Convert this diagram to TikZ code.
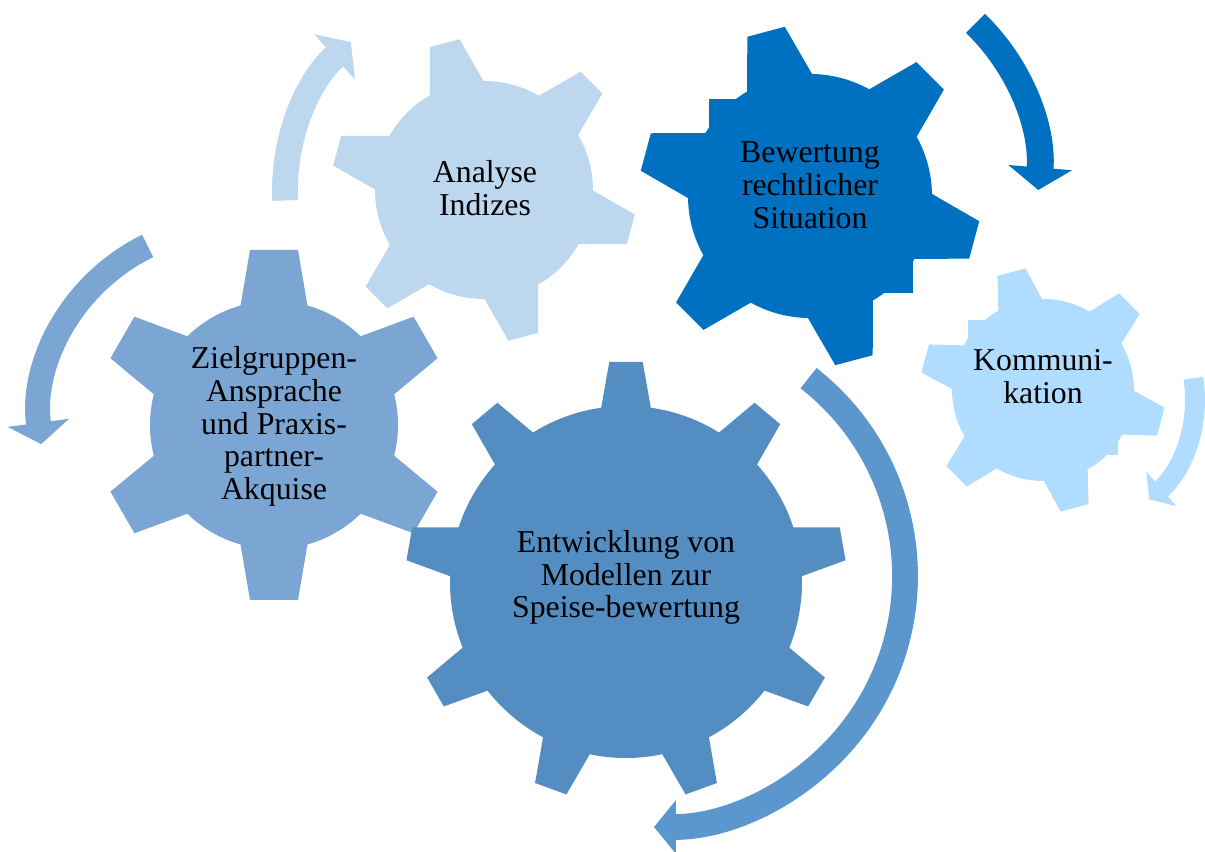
\documentclass[tikz,border=0pt]{standalone}
\usepackage{fontspec}
\setmainfont{Liberation Serif}
\usetikzlibrary{arrows.meta}

\definecolor{modellblue}{HTML}{548DC1}
\definecolor{modellarrow}{HTML}{5B97CC}
\definecolor{zielblue}{HTML}{7BA5D3}
\definecolor{analyseblue}{HTML}{BDD7EE}
\definecolor{rechtblue}{HTML}{0070C0}
\definecolor{kommblue}{HTML}{AFDCFF}

\tikzset{
  gearlabel/.style={align=center, inner sep=0pt, text=black,
    font=\fontsize{18.1}{18.7}\selectfont},
  turnarrow/.style n args={3}{line width=#1pt,
    -{Triangle[length=#2pt,width=#3pt]}},
}

\begin{document}
\begin{tikzpicture}[x=0.02cm, y=0.02cm]
\useasboundingbox (0,0) rectangle (1205,852);

% Zielgruppen gear, six teeth
\fill[zielblue] (274,427) circle (124);
\foreach \a in {90,150,...,390}
  \fill[zielblue, shift={(274,427)}, rotate=\a]
    (114,-34.4) -- (175,-24) -- (175,24) -- (114,34.4) -- cycle;

% large gear, nine teeth
\fill[modellblue] (626,270) circle (176);
\foreach \a in {90,130,...,410}
  \fill[modellblue, shift={(626,270)}, rotate=\a]
    (166,-26.3) -- (220,-16.7) -- (220,16.7) -- (166,26.3) -- cycle;

% Analyse gear
\fill[analyseblue] (484,662) circle (109);
\foreach \a in {105,165,...,405}
  \fill[analyseblue, shift={(484,662)}, rotate=\a]
    (99,-29.4) -- (152,-15.4) -- (152,15.4) -- (99,29.4) -- cycle;

% Bewertung gear
\fill[rechtblue] (810,656) circle (122);
\foreach \a in {105,165,...,405}
  \fill[rechtblue, shift={(810,656)}, rotate=\a]
    (112,-35) -- (170,-19.4) -- (170,19.4) -- (112,35) -- cycle;
\fill[rechtblue] (709,712) rectangle (748,753);
\fill[rechtblue] (870,559) rectangle (913,597);

% Kommunikation gear
\fill[kommblue] (1043,462) circle (91);
\foreach \a in {105,165,...,405}
  \fill[kommblue, shift={(1043,462)}, rotate=\a]
    (81,-24.3) -- (122,-14.5) -- (122,14.5) -- (81,24.3) -- cycle;
\fill[kommblue] (968,504) rectangle (1000,532);
\fill[kommblue] (1100,397) rectangle (1118,424);

% turning arrows
\draw[turnarrow={14.7}{12.5}{30}, modellarrow] (654,276) ++(52:251)
  arc[start angle=52, end angle=-90, radius=251];
\draw[turnarrow={14.2}{12.2}{34.6}, zielblue] (232,433) ++(116:192.5)
  arc[start angle=116, end angle=187.5, radius=192.5];
\draw[turnarrow={14.7}{12.5}{34}, analyseblue] (484,662) ++(183:199)
  arc[start angle=183, end angle=132, radius=199];
\draw[turnarrow={15.3}{12.8}{35.7}, rechtblue] (831,679) ++(46:208)
  arc[start angle=46, end angle=-4.7, radius=208];
\draw[turnarrow={11.3}{9.1}{25.5}, kommblue] (1062,453) ++(9:133)
  arc[start angle=9, end angle=-49, radius=133];

% labels
\node[gearlabel] (modelle) at (626,274.5) {Entwicklung von\\Modellen zur\\Speise-bewertung};
\node[gearlabel] (zielgruppen) at (274,425.5) {Zielgruppen-\\Ansprache\\und Praxis-\\partner-\\Akquise};
\node[gearlabel] (analyse) at (485,664) {Analyse\\Indizes};
\node[gearlabel] (bewertung) at (810,667) {Bewertung\\rechtlicher\\Situation};
\node[gearlabel] (kommunikation) at (1043,475) {Kommuni-\\kation};
\end{tikzpicture}
\end{document}
